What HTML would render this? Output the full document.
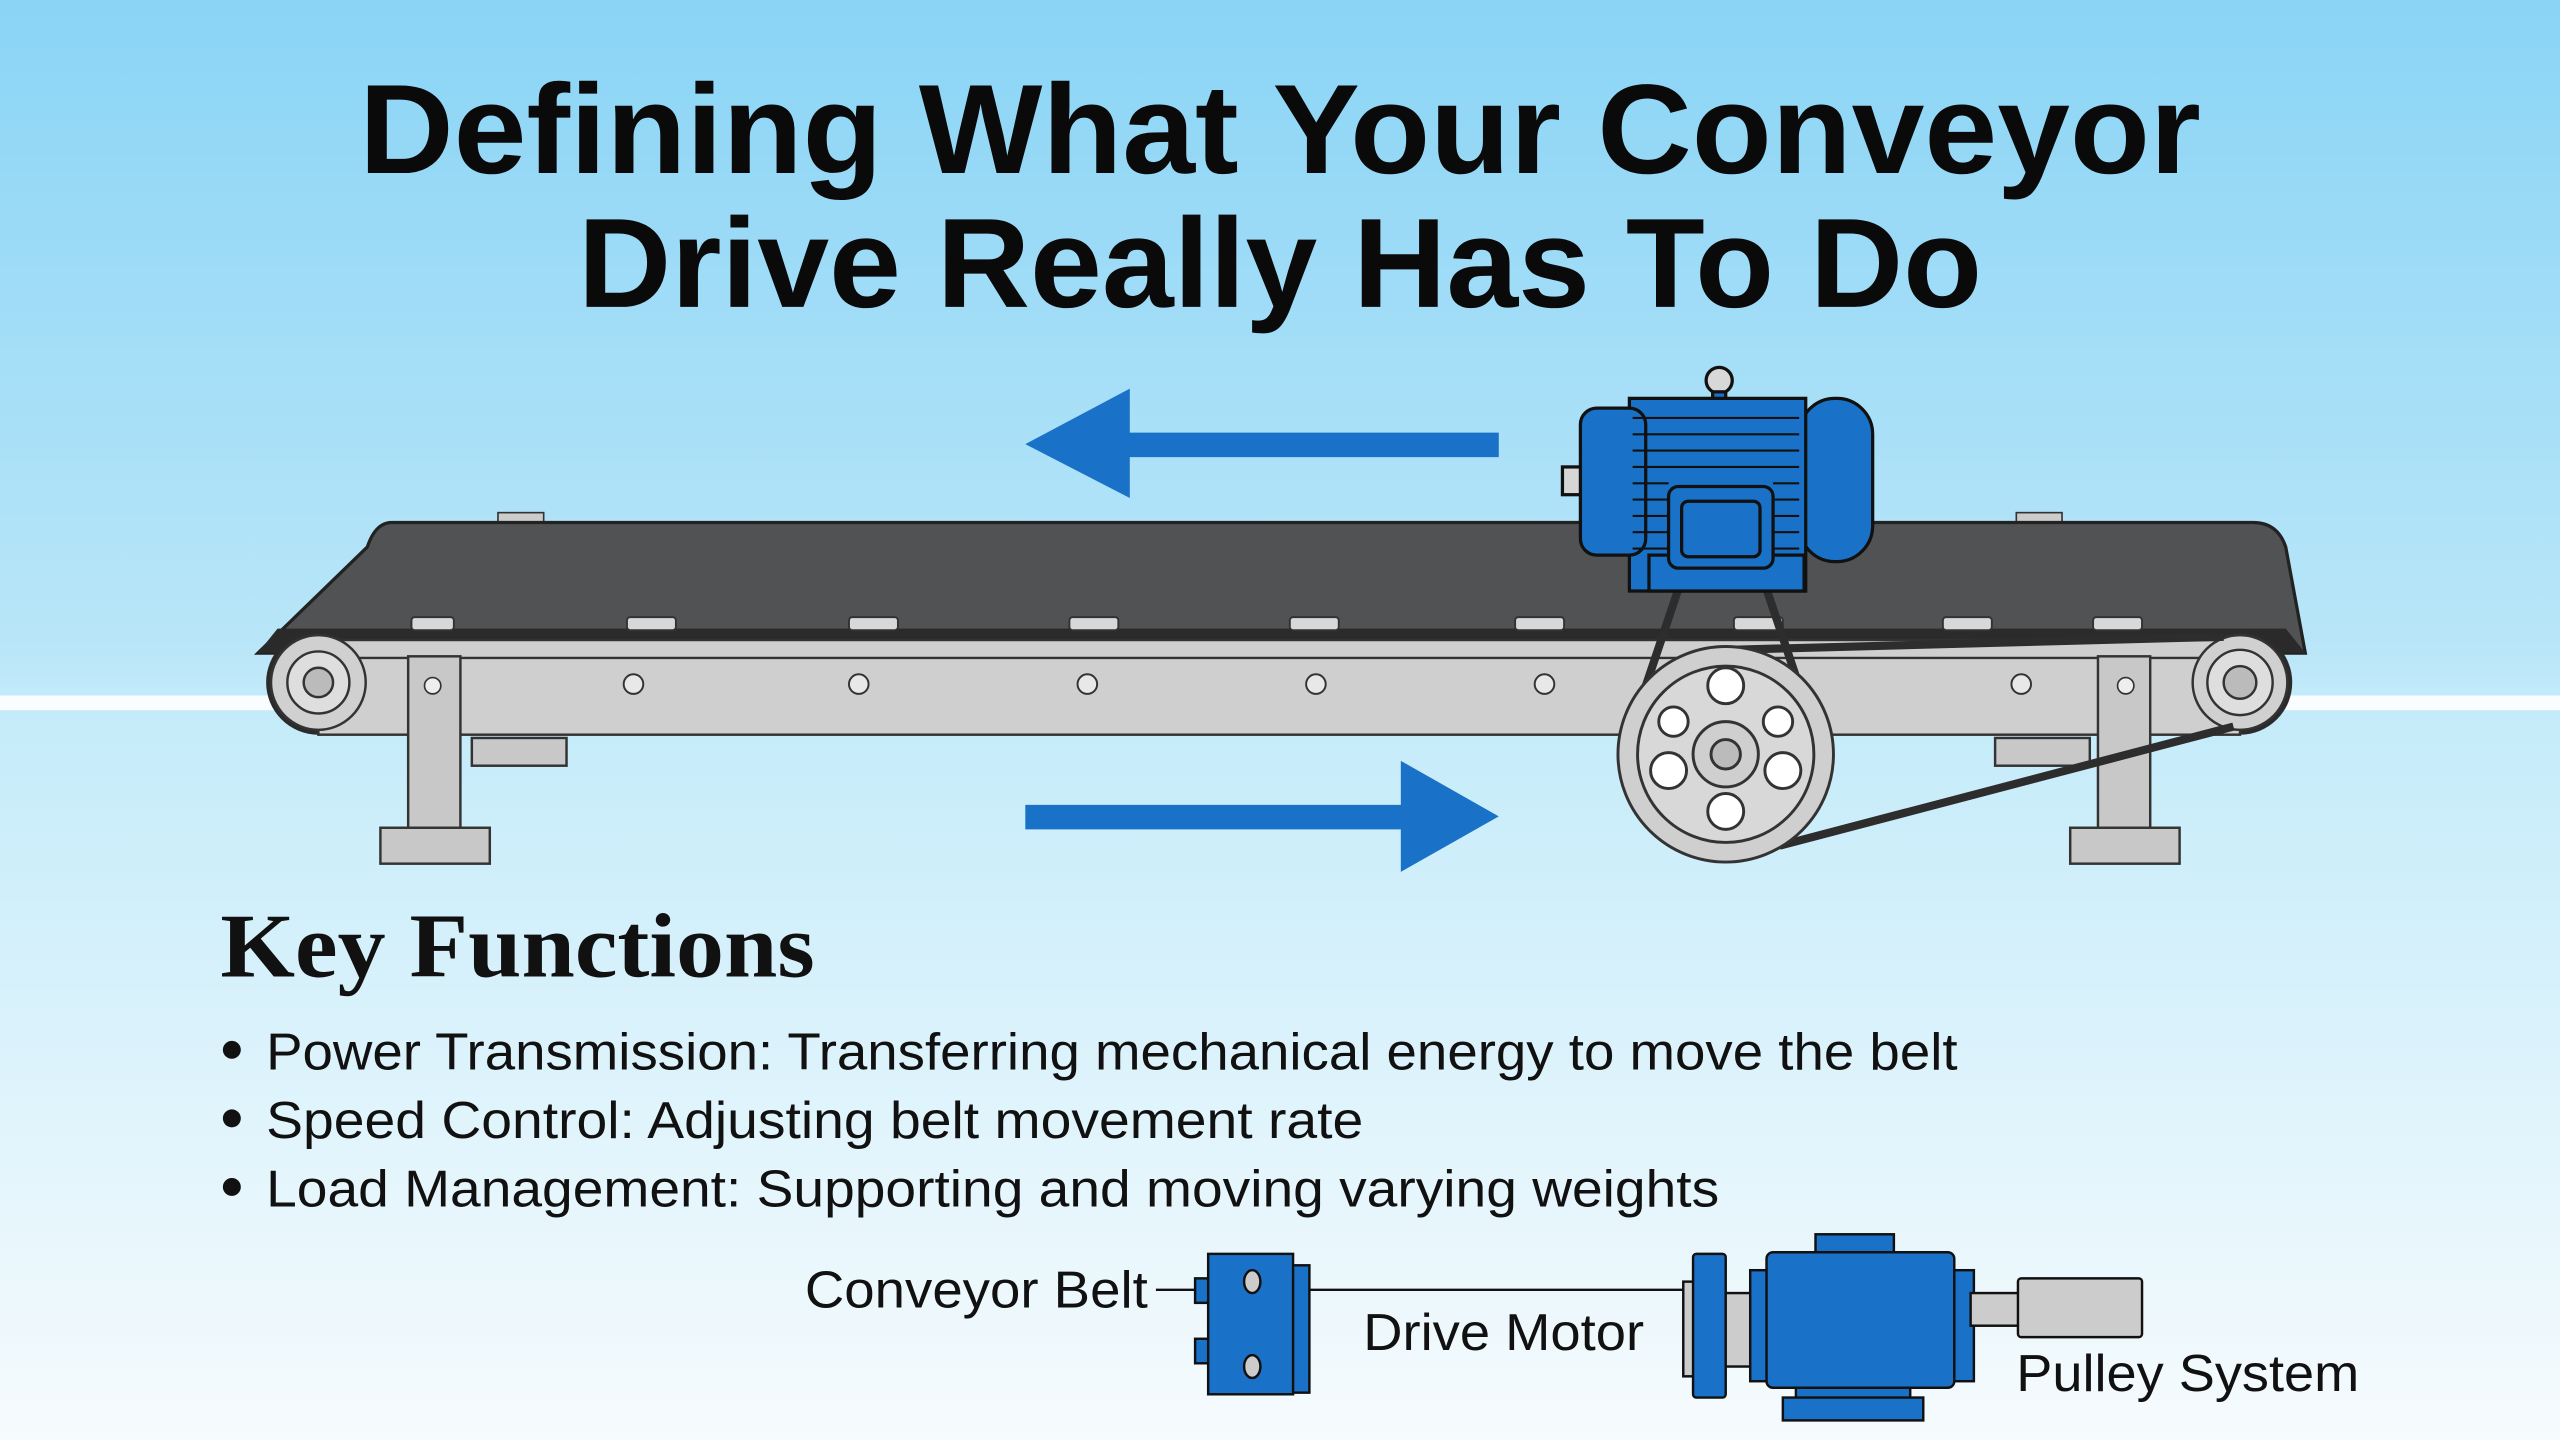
<!DOCTYPE html>
<html><head><meta charset="utf-8"><style>
html,body{margin:0;padding:0;width:2560px;height:1440px;overflow:hidden}
svg{display:block}
</style></head><body>
<svg width="2560" height="1440" viewBox="0 0 1568 882" xmlns="http://www.w3.org/2000/svg">
<defs>
<linearGradient id="bg" x1="0" y1="0" x2="0" y2="1">
<stop offset="0" stop-color="#8ad4f6"/><stop offset="0.45" stop-color="#b9e6f8"/><stop offset="0.49" stop-color="#c4ebfa"/><stop offset="1" stop-color="#f6fbfd"/>
</linearGradient>
</defs>
<rect width="1568" height="882" fill="url(#bg)"/>
<rect x="0" y="426" width="1568" height="9" fill="#ffffff" opacity="0.9"/>
<g font-family="Liberation Sans, sans-serif" font-weight="bold" fill="#0a0a0a" text-anchor="middle">
<text x="784" y="106" font-size="78" textLength="1128" lengthAdjust="spacingAndGlyphs">Defining What Your Conveyor</text>
<text x="784" y="188" font-size="78" textLength="860" lengthAdjust="spacingAndGlyphs">Drive Really Has To Do</text>
</g>
<!-- arrows -->
<polygon points="918,265 692,265 692,238 628,272 692,305 692,280 918,280" fill="#1a72c8"/>
<polygon points="628,493 858,493 858,466 918,500 858,534 858,508 628,508" fill="#1a72c8"/>
<!-- feet behind -->
<rect x="289" y="452" width="58" height="17" fill="#c8c8c8" stroke="#333" stroke-width="1.5"/>
<rect x="1222" y="452" width="58" height="17" fill="#c8c8c8" stroke="#333" stroke-width="1.5"/>
<!-- belt top -->
<rect x="305" y="314" width="28" height="8" fill="#ccc" stroke="#333"/>
<rect x="1235" y="314" width="28" height="8" fill="#ccc" stroke="#333"/>
<path d="M240,320 L1380,320 Q1395,320 1400,335 L1412,400 L158,400 L225,335 Q230,320 240,320 Z" fill="#505254" stroke="#222" stroke-width="2"/>
<path d="M170,385 L1400,385 L1412,400 L158,400 Z" fill="#2a2a2a"/>
<!-- frame -->
<path d="M195,386 L1372,386 A32,32 0 0 1 1372,450 L195,450 A32,32 0 0 1 195,386 Z" fill="#2b2b2b"/>
<rect x="195" y="392" width="1177" height="58" fill="#cfcfcf" stroke="#333" stroke-width="1.5"/>
<line x1="195" y1="403" x2="1372" y2="403" stroke="#333" stroke-width="1.5"/>
<g fill="#d8d8d8" stroke="#333" stroke-width="1.2">
<rect x="252" y="378" width="26" height="8" rx="2"/><rect x="384" y="378" width="30" height="8" rx="2"/><rect x="520" y="378" width="30" height="8" rx="2"/><rect x="655" y="378" width="30" height="8" rx="2"/><rect x="790" y="378" width="30" height="8" rx="2"/><rect x="928" y="378" width="30" height="8" rx="2"/><rect x="1062" y="378" width="30" height="8" rx="2"/><rect x="1190" y="378" width="30" height="8" rx="2"/><rect x="1282" y="378" width="30" height="8" rx="2"/>
</g>
<g fill="#e8e8e8" stroke="#333" stroke-width="1.2">
<circle cx="388" cy="419" r="6"/><circle cx="526" cy="419" r="6"/><circle cx="666" cy="419" r="6"/><circle cx="806" cy="419" r="6"/><circle cx="946" cy="419" r="6"/><circle cx="1238" cy="419" r="6"/>
</g>
<!-- end pulleys -->
<g stroke="#333" stroke-width="1.5">
<circle cx="195" cy="418" r="29" fill="#d0d0d0"/><circle cx="195" cy="418" r="19" fill="#dedede"/><circle cx="195" cy="418" r="9" fill="#bbb"/>
<circle cx="1372" cy="418" r="29" fill="#d0d0d0"/><circle cx="1372" cy="418" r="20" fill="#dedede"/><circle cx="1372" cy="418" r="10" fill="#bbb"/>
</g>
<!-- legs -->
<g fill="#c8c8c8" stroke="#333" stroke-width="1.5">
<rect x="250" y="402" width="32" height="115"/><rect x="233" y="507" width="67" height="22"/>
<rect x="1285" y="402" width="32" height="115"/><rect x="1268" y="507" width="67" height="22"/>
</g>
<g fill="#eee" stroke="#333"><circle cx="265" cy="420" r="5"/><circle cx="1302" cy="420" r="5"/></g>
<!-- drive belts -->
<g stroke="#2d2d2d" stroke-width="5" fill="none">
<line x1="1035" y1="340" x2="998" y2="450"/><line x1="1075" y1="340" x2="1112" y2="450"/>
<line x1="1060" y1="398" x2="1362" y2="390"/>
<line x1="1090" y1="518" x2="1368" y2="445"/>
</g>
<!-- big pulley -->
<g stroke="#333" stroke-width="1.8">
<circle cx="1057" cy="462" r="66" fill="#cfcfcf"/><circle cx="1057" cy="462" r="54" fill="#d8d8d8"/>
<circle cx="1057" cy="462" r="20" fill="#cfcfcf"/><circle cx="1057" cy="462" r="9" fill="#bbb"/>
<g fill="#fff"><circle cx="1057" cy="420" r="11"/><circle cx="1057" cy="497" r="11"/><circle cx="1022" cy="472" r="11"/><circle cx="1092" cy="472" r="11"/><circle cx="1025" cy="442" r="9"/><circle cx="1089" cy="442" r="9"/></g>
</g>
<!-- motor -->
<g stroke="#111" stroke-width="2" fill="#1a72c8">
<rect x="957" y="286" width="14" height="17" fill="#d6d6d6"/>
<circle cx="1053" cy="233" r="8" fill="#d8d8d8"/>
<rect x="1049" y="240" width="8" height="10"/>
<rect x="1102" y="244" width="45" height="100" rx="22"/>
<rect x="998" y="244" width="108" height="118"/>
<rect x="968" y="250" width="40" height="90" rx="10"/>
<rect x="1010" y="340" width="95" height="22"/>
<rect x="1022" y="298" width="64" height="50" rx="6"/>
<rect x="1030" y="307" width="48" height="34" rx="4"/>
</g>
<g stroke="#111" stroke-width="1.3">
<line x1="1000" y1="256" x2="1102" y2="256"/><line x1="1000" y1="266" x2="1102" y2="266"/><line x1="1000" y1="276" x2="1102" y2="276"/><line x1="1000" y1="286" x2="1102" y2="286"/>
<line x1="1000" y1="296" x2="1022" y2="296"/><line x1="1086" y1="296" x2="1102" y2="296"/>
<line x1="1000" y1="306" x2="1022" y2="306"/><line x1="1086" y1="306" x2="1102" y2="306"/>
<line x1="1000" y1="316" x2="1022" y2="316"/><line x1="1086" y1="316" x2="1102" y2="316"/>
<line x1="1000" y1="326" x2="1022" y2="326"/><line x1="1086" y1="326" x2="1102" y2="326"/>
<line x1="1000" y1="336" x2="1022" y2="336"/><line x1="1086" y1="336" x2="1102" y2="336"/>
</g>
<!-- Key functions -->
<text x="135" y="598" font-family="Liberation Serif, serif" font-weight="bold" font-size="56" fill="#111" textLength="364" lengthAdjust="spacingAndGlyphs">Key Functions</text>
<g font-family="Liberation Sans, sans-serif" font-size="32" fill="#111">
<circle cx="142" cy="643" r="5.5"/><circle cx="142" cy="685" r="5.5"/><circle cx="142" cy="727" r="5.5"/>
<text x="163" y="655" textLength="1036" lengthAdjust="spacingAndGlyphs">Power Transmission: Transferring mechanical energy to move the belt</text>
<text x="163" y="697" textLength="672" lengthAdjust="spacingAndGlyphs">Speed Control: Adjusting belt movement rate</text>
<text x="163" y="739" textLength="890" lengthAdjust="spacingAndGlyphs">Load Management: Supporting and moving varying weights</text>
<text x="493" y="801" textLength="210" lengthAdjust="spacingAndGlyphs">Conveyor Belt</text>
<text x="835" y="827" textLength="172" lengthAdjust="spacingAndGlyphs">Drive Motor</text>
<text x="1235" y="852" textLength="210" lengthAdjust="spacingAndGlyphs">Pulley System</text>
</g>
<!-- bottom diagram -->
<g stroke="#111" stroke-width="1.5">
<line x1="708" y1="790" x2="732" y2="790"/>
<line x1="800" y1="790" x2="1036" y2="790"/>
<rect x="732" y="783" width="9" height="15" fill="#1a72c8"/><rect x="732" y="820" width="9" height="15" fill="#1a72c8"/>
<rect x="790" y="775" width="12" height="78" fill="#1a72c8"/>
<rect x="740" y="768" width="52" height="86" fill="#1a72c8"/>
<ellipse cx="767" cy="785" rx="5" ry="7" fill="#ccc"/><ellipse cx="767" cy="837" rx="5" ry="7" fill="#ccc"/>
<rect x="1031" y="785" width="8" height="58" fill="#ccc"/>
<rect x="1037" y="768" width="20" height="88" rx="2" fill="#1a72c8"/>
<rect x="1057" y="792" width="18" height="45" fill="#ccc"/>
<rect x="1112" y="756" width="48" height="16" fill="#1a72c8"/>
<rect x="1072" y="778" width="16" height="68" fill="#1a72c8"/>
<rect x="1195" y="778" width="14" height="68" fill="#1a72c8"/>
<rect x="1100" y="840" width="70" height="20" fill="#1a72c8"/>
<rect x="1092" y="856" width="86" height="14" fill="#1a72c8"/>
<rect x="1082" y="767" width="115" height="83" rx="4" fill="#1a72c8"/>
<rect x="1207" y="792" width="30" height="20" fill="#ccc"/>
<rect x="1236" y="783" width="76" height="36" rx="2" fill="#ccc"/>
</g>
</svg>
</body></html>
